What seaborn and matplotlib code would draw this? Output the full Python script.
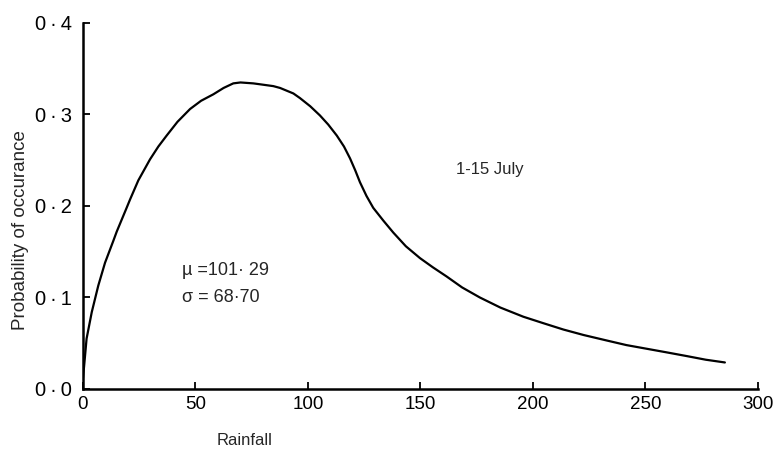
import matplotlib
matplotlib.use("Agg")
import matplotlib.pyplot as plt
import seaborn as sns
import pandas as pd

# Data
rainfall = [0, 0.5, 1.6, 3.9, 6.8, 9.8, 13.5, 15.0, 19.4, 20.9, 24.6, 29.8,
            33.5, 37.2, 42, 47.6, 52.5, 57.9, 62.5, 66.8, 70, 75.7, 78.7, 84.6,
            87.6, 93.5, 96.4, 101, 105.3, 109, 112.8, 116, 118.7, 121, 123.1,
            126, 129.0, 133.5, 137.9, 143.5, 149.8, 155.5, 161.6, 168.5,
            176.4, 185.5, 195.7, 204.5, 213.5, 222.5, 232.8, 241.5, 250.5,
            259.5, 268.3, 276.8, 285.3]
probability = [0.012, 0.025, 0.055, 0.084, 0.113, 0.138, 0.162, 0.172, 0.198,
               0.207, 0.228, 0.251, 0.265, 0.277, 0.292, 0.306, 0.315, 0.322,
               0.329, 0.334, 0.335, 0.334, 0.333, 0.331, 0.329, 0.323, 0.318,
               0.309, 0.299, 0.289, 0.277, 0.265, 0.252, 0.239, 0.226, 0.211,
               0.198, 0.184, 0.171, 0.156, 0.143, 0.133, 0.123, 0.111, 0.100,
               0.089, 0.079, 0.072, 0.065, 0.059, 0.053, 0.048, 0.044, 0.040,
               0.036, 0.032, 0.029]

x_ticks = [0, 50, 100, 150, 200, 250, 300]
x_tick_labels = ["0", "50", "100", "150", "200", "250", "300"]
y_ticks = [0.0, 0.1, 0.2, 0.3, 0.4]
y_tick_labels = ["0\u2009·\u20090", "0\u2009·\u20091", "0\u2009·\u20092",
                 "0\u2009·\u20093", "0\u2009·\u20094"]

period_label = "1-15 July"
mean_label = "µ =101· 29"
sd_label = "σ = 68·70"

sns.set_style("white")
plt.rcParams["font.family"] = ["Liberation Sans", "DejaVu Sans"]

df = pd.DataFrame({"Rainfall": rainfall, "Probability": probability})

fig = plt.figure(figsize=(7.77, 4.57), dpi=100)
ax = fig.add_axes([0.1068, 0.1488, 0.8687, 0.8009])

sns.lineplot(data=df, x="Rainfall", y="Probability", ax=ax, color="black",
             linewidth=1.6, sort=False)

ax.set_xlim(0, 300)
ax.set_ylim(0, 0.4)
ax.set_xticks(x_ticks)
ax.set_xticklabels(x_tick_labels, fontsize=13.5)
ax.set_yticks(y_ticks)
ax.set_yticklabels(y_tick_labels, fontsize=14.5)
ax.tick_params(axis="both", direction="in", length=5, width=1.3, color="black",
               labelcolor="black", bottom=True, left=True)
ax.tick_params(axis="x", pad=5)
ax.tick_params(axis="y", pad=8)

for side in ["top", "right"]:
    ax.spines[side].set_visible(False)
for side in ["left", "bottom"]:
    ax.spines[side].set_color("black")
    ax.spines[side].set_linewidth(1.8)

ax.set_xlabel("")
ax.set_ylabel("")
fig.text(0.026, 0.497, "Probability of occurance", rotation=90, fontsize=13.5,
         ha="center", va="center")
fig.text(0.315, 0.02, "Rainfall", fontsize=12, ha="center", va="bottom")

ax.text(181, 0.240, period_label, fontsize=12, ha="center", va="center")
ax.text(44, 0.129, mean_label, fontsize=13, ha="left", va="center")
ax.text(44, 0.100, sd_label, fontsize=13, ha="left", va="center")

fig.savefig("out.png", dpi=100)
